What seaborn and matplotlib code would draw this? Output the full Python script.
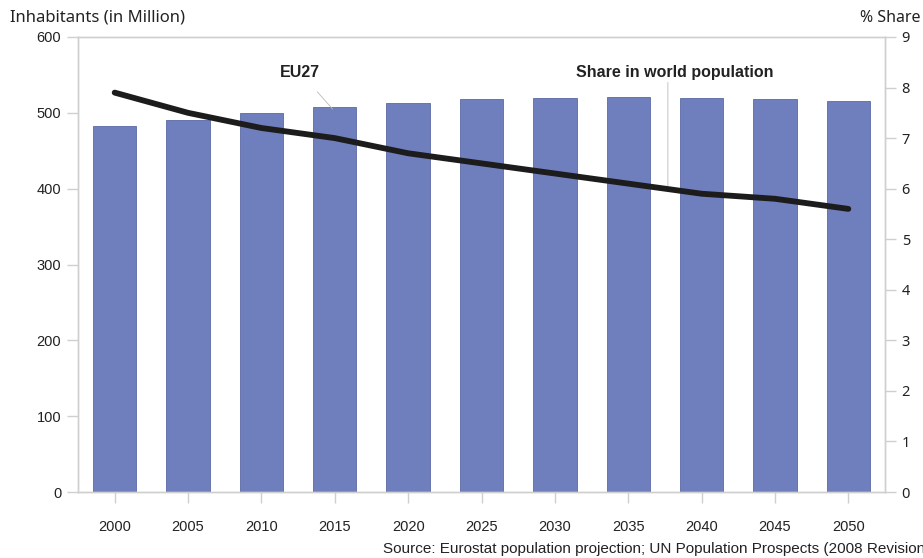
import matplotlib
matplotlib.use("Agg")
import matplotlib.pyplot as plt
import seaborn as sns
import pandas as pd
import numpy as np

years = ["2000", "2005", "2010", "2015", "2020", "2025", "2030", "2035", "2040", "2045", "2050"]
inhabitants = [483, 491, 500, 508, 513, 518, 520, 521, 520, 518, 516]
share = [7.9, 7.5, 7.2, 7.0, 6.7, 6.5, 6.3, 6.1, 5.9, 5.8, 5.6]
left_ticks = [0, 100, 200, 300, 400, 500, 600]
right_ticks = [0, 1, 2, 3, 4, 5, 6, 7, 8, 9]

df = pd.DataFrame({"year": years, "inh": inhabitants, "share": share, "idx": range(len(years))})

sns.set_style("white")
plt.rcParams["font.family"] = ["Liberation Sans", "DejaVu Sans"]

fig = plt.figure(figsize=(9.23, 5.58), dpi=100)
ax = fig.add_axes([78/923, 66/558, 807/923, 455/558])

sns.barplot(data=df, x="year", y="inh", ax=ax, color="#6f7fbd", saturation=1,
            width=0.59, edgecolor="#5b6aa6", linewidth=0.6)
ax.set_ylim(0, 600)
ax.set_xlim(-0.5, len(years) - 0.5)
ax.set_yticks(left_ticks)
ax.set_xlabel("")
ax.set_ylabel("")

ax2 = ax.twinx()
sns.lineplot(data=df, x="idx", y="share", ax=ax2, color="#1c1c1c", linewidth=4.2,
             solid_capstyle="round")
ax2.set_ylim(0, 9)
ax2.set_yticks(right_ticks)
ax2.set_xlim(-0.5, len(years) - 0.5)
ax2.set_ylabel("")
ax2.set_xlabel("")

grey = "#cfcfcf"
for a in (ax, ax2):
    for s in a.spines.values():
        s.set_color(grey)
        s.set_linewidth(1.0)
ax.tick_params(axis="y", length=8, color=grey, width=1, labelsize=10.5, labelcolor="#222222", pad=4, left=True)
ax.tick_params(axis="x", length=8, color=grey, width=1, labelsize=10.5, labelcolor="#222222", pad=12, bottom=True)
ax2.tick_params(axis="y", length=8, color=grey, width=1, labelsize=10.5, labelcolor="#222222", pad=4, right=True)
for lab in ax2.get_yticklabels():
    lab.set_family(["Noto Sans", "DejaVu Sans"])

# annotations
ax.annotate("EU27", xy=(2.97, 505), xytext=(2.53, 553), ha="center", va="center",
            fontsize=11.5, fontweight="bold", color="#222222",
            arrowprops=dict(arrowstyle="-", color="#bbbbbb", lw=0.6, shrinkA=8, shrinkB=0))
ax.text(7.63, 553, "Share in world population", ha="center", va="center",
        fontsize=11.5, fontweight="bold", color="#222222")
ax.annotate("", xy=(7.54, 401), xytext=(7.54, 540),
            arrowprops=dict(arrowstyle="-", color="#cccccc", lw=0.8, shrinkA=0, shrinkB=0))

fig.text(10/923, 1 - 18/558, "Inhabitants (in Million)", ha="left", va="center",
         fontsize=12, family=["Noto Sans", "DejaVu Sans"], color="#222222")
fig.text(921/923, 1 - 18/558, "% Share", ha="right", va="center",
         fontsize=11.5, family=["Noto Sans", "DejaVu Sans"], color="#222222")
fig.text(383/923, 1 - 549/558, "Source: Eurostat population projection; UN Population Prospects (2008 Revision)",
         ha="left", va="center", fontsize=11, color="#222222")

fig.savefig("out.png", dpi=100)
